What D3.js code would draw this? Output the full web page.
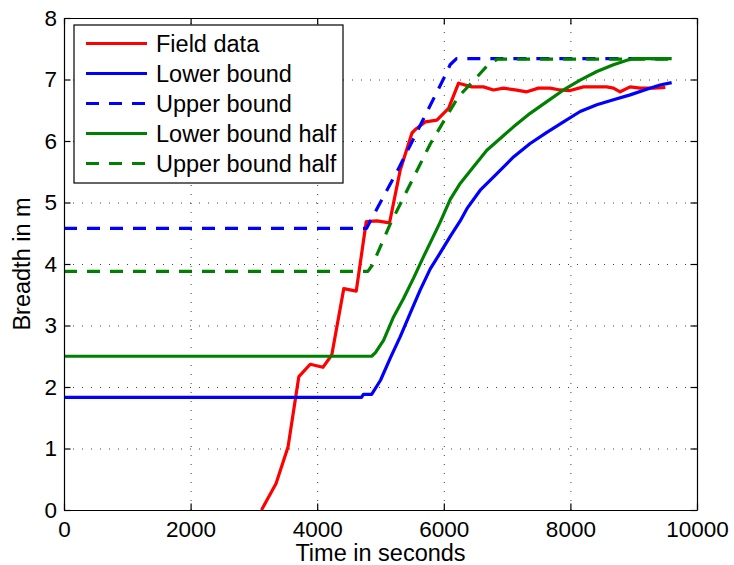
<!DOCTYPE html>
<html lang="en">
<head>
    <meta charset="UTF-8">
    <title>Breadth over time</title>
    <script src="https://cdnjs.cloudflare.com/ajax/libs/d3/7.8.5/d3.min.js"></script>
    <style>
        body {
            margin: 0;
            background: #fff;
        }

        svg {
            display: block;
            font-family: "Liberation Sans", Arial, Helvetica, sans-serif;
        }

        .grid line {
            stroke: #000;
            stroke-width: 1;
            stroke-dasharray: 1, 8;
            opacity: 0.75;
        }

        .grid .domain {
            display: none;
        }

        .axis path,
        .axis line {
            stroke: #000;
            stroke-width: 1.2;
        }

        .axis text {
            fill: #000;
            font-size: 22.5px;
        }

        .series {
            fill: none;
            stroke-width: 3.2;
            stroke-linejoin: round;
        }
    </style>
</head>
<body>
    <div id="chart"></div>

    <script>
        // [time (s), breadth (m)]
        const fieldData = [
            [3120, 0], [3350, 0.43], [3540, 1.03], [3710, 2.17], [3890, 2.37], [4090, 2.32],
            [4230, 2.52], [4420, 3.60], [4617, 3.56], [4775, 4.69], [4944, 4.70], [5143, 4.67],
            [5312, 5.53], [5497, 6.13], [5565, 6.20], [5707, 6.31], [5891, 6.34], [6075, 6.53],
            [6233, 6.94], [6444, 6.88], [6627, 6.88], [6785, 6.83], [6943, 6.86], [7128, 6.83],
            [7312, 6.80], [7496, 6.86], [7680, 6.86], [7838, 6.83], [7996, 6.82], [8206, 6.88],
            [8391, 6.88], [8575, 6.88], [8680, 6.86], [8786, 6.80], [8944, 6.88], [9101, 6.86],
            [9312, 6.86], [9500, 6.87]
        ];

        const lowerBound = [
            [0, 1.83], [4700, 1.83], [4730, 1.88], [4860, 1.88], [5000, 2.11], [5154, 2.47],
            [5312, 2.82], [5470, 3.20], [5628, 3.58], [5786, 3.92], [5943, 4.18], [6102, 4.45],
            [6259, 4.70], [6365, 4.90], [6575, 5.20], [6839, 5.47], [7101, 5.74], [7364, 5.96],
            [7628, 6.14], [7891, 6.31], [8154, 6.48], [8418, 6.59], [8680, 6.67], [8944, 6.75],
            [9207, 6.84], [9417, 6.91], [9600, 6.95]
        ];

        const upperBound = [
            [0, 4.58], [4780, 4.58], [4850, 4.72], [5300, 5.58], [6000, 7.02], [6100, 7.24],
            [6200, 7.34], [9600, 7.34]
        ];

        const lowerBoundHalf = [
            [0, 2.50], [4860, 2.50], [4920, 2.56], [5048, 2.76], [5206, 3.14], [5364, 3.44],
            [5522, 3.77], [5680, 4.12], [5812, 4.40], [5943, 4.68], [6102, 5.05], [6259, 5.31],
            [6470, 5.58], [6680, 5.85], [6891, 6.04], [7101, 6.23], [7364, 6.45], [7628, 6.64],
            [7891, 6.83], [8154, 6.99], [8418, 7.13], [8680, 7.24], [8917, 7.32], [9000, 7.34],
            [9600, 7.34]
        ];

        const upperBoundHalf = [
            [0, 3.88], [4800, 3.88], [4870, 3.98], [5150, 4.64], [5790, 5.96], [6230, 6.72],
            [6470, 6.98], [6700, 7.24], [6850, 7.33], [9600, 7.33]
        ];

        const seriesNames = ["Field data", "Lower bound", "Upper bound", "Lower bound half", "Upper bound half"];
        const xTicks = [0, 2000, 4000, 6000, 8000, 10000];
        const yTicks = [0, 1, 2, 3, 4, 5, 6, 7, 8];

        const series = [
            { name: seriesNames[0], values: fieldData, color: "#ff0000", dash: null },
            { name: seriesNames[1], values: lowerBound, color: "#0000ff", dash: null },
            { name: seriesNames[2], values: upperBound, color: "#0000ff", dash: "13,10" },
            { name: seriesNames[3], values: lowerBoundHalf, color: "#008000", dash: null },
            { name: seriesNames[4], values: upperBoundHalf, color: "#008000", dash: "13,10" }
        ];

        const width = 734;
        const height = 565;
        const margin = { top: 18, right: 37, bottom: 55, left: 64 };
        const innerW = width - margin.left - margin.right;
        const innerH = height - margin.top - margin.bottom;

        const svg = d3.select("#chart")
            .append("svg")
            .attr("width", width)
            .attr("height", height);

        const g = svg.append("g")
            .attr("transform", `translate(${margin.left},${margin.top})`);

        const x = d3.scaleLinear().domain([0, 10000]).range([0, innerW]);
        const y = d3.scaleLinear().domain([0, 8]).range([innerH, 0]);

        // dotted grid
        g.append("g")
            .attr("class", "grid")
            .attr("transform", `translate(0,${innerH})`)
            .call(d3.axisBottom(x).tickValues(xTicks.slice(1, -1)).tickSize(-innerH).tickFormat(""));

        g.append("g")
            .attr("class", "grid")
            .call(d3.axisLeft(y).tickValues(yTicks.slice(1, -1)).tickSize(-innerW).tickFormat(""));

        // lines
        g.append("clipPath")
            .attr("id", "plot-clip")
            .append("rect")
            .attr("width", innerW)
            .attr("height", innerH);

        const line = d3.line()
            .x(d => x(d[0]))
            .y(d => y(d[1]));

        g.append("g")
            .attr("clip-path", "url(#plot-clip)")
            .selectAll("path")
            .data(series)
            .join("path")
            .attr("class", "series")
            .attr("stroke", d => d.color)
            .attr("stroke-dasharray", d => d.dash)
            .attr("d", d => line(d.values));

        // axes box with inward ticks
        const tickLen = 6.5;

        g.append("g")
            .attr("class", "axis")
            .attr("transform", `translate(0,${innerH})`)
            .call(d3.axisBottom(x).tickValues(xTicks).tickSize(-tickLen).tickSizeOuter(0).tickPadding(11).tickFormat(d3.format("d")));

        g.append("g")
            .attr("class", "axis")
            .call(d3.axisTop(x).tickValues(xTicks).tickSize(-tickLen).tickSizeOuter(0).tickFormat(""));

        g.append("g")
            .attr("class", "axis")
            .call(d3.axisLeft(y).tickValues(yTicks).tickSize(-tickLen).tickSizeOuter(0).tickPadding(7));

        g.append("g")
            .attr("class", "axis")
            .attr("transform", `translate(${innerW},0)`)
            .call(d3.axisRight(y).tickValues(yTicks).tickSize(-tickLen).tickSizeOuter(0).tickFormat(""));

        g.selectAll(".axis").attr("font-size", null).attr("font-family", null);

        // axis titles
        svg.append("text")
            .attr("x", margin.left + innerW / 2)
            .attr("y", 561)
            .attr("text-anchor", "middle")
            .attr("font-size", 23.5)
            .text("Time in seconds");

        svg.append("text")
            .attr("transform", `translate(30,${margin.top + innerH / 2}) rotate(-90)`)
            .attr("text-anchor", "middle")
            .attr("font-size", 23.5)
            .text("Breadth in m");

        // legend
        const legend = svg.append("g").attr("transform", "translate(74,25)");

        legend.append("rect")
            .attr("width", 269)
            .attr("height", 158)
            .attr("fill", "#fff")
            .attr("stroke", "#000")
            .attr("stroke-width", 1.2);

        const rows = legend.selectAll("g.row")
            .data(series)
            .join("g")
            .attr("class", "row")
            .attr("transform", (d, i) => `translate(0,${18.5 + i * 30})`);

        rows.append("line")
            .attr("x1", 12)
            .attr("x2", 73)
            .attr("stroke", d => d.color)
            .attr("stroke-width", 3.2)
            .attr("stroke-dasharray", d => d.dash);

        rows.append("text")
            .attr("x", 82)
            .attr("y", 8.5)
            .attr("font-size", 23.5)
            .text(d => d.name);
    </script>
</body>
</html>
